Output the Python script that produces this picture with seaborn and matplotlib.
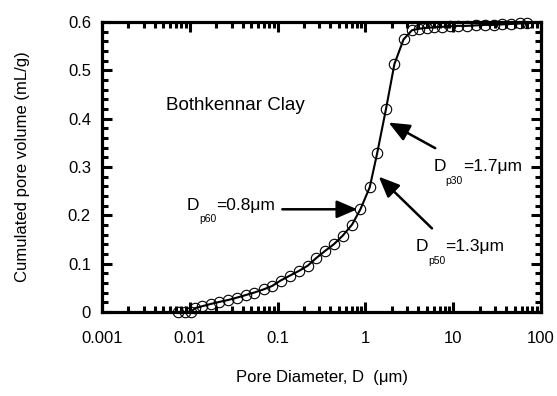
import matplotlib
matplotlib.use("Agg")
import matplotlib.pyplot as plt
import matplotlib.ticker as mticker
import seaborn as sns
import numpy as np

# ---- data ----
diam = [0.0074, 0.0088, 0.0104, 0.0115, 0.0139, 0.0173, 0.0215, 0.0275, 0.0348,
        0.0433, 0.0537, 0.0698, 0.087, 0.108, 0.137, 0.175, 0.221, 0.277, 0.351,
        0.436, 0.552, 0.706, 0.877, 1.12, 1.36, 1.72, 2.14, 2.72, 3.39,
        4.1, 5.0, 6.1, 7.5, 9.3, 11.4, 14.3, 18.0, 23.0, 29.0, 36.0, 46.0, 58.0, 70.0]
vol = [0.000, 0.000, 0.001, 0.008, 0.012, 0.0166, 0.0207, 0.025, 0.030,
       0.035, 0.040, 0.047, 0.054, 0.065, 0.075, 0.085, 0.096, 0.112, 0.127,
       0.140, 0.158, 0.181, 0.2125, 0.258, 0.328, 0.421, 0.513, 0.564, 0.583,
       0.586, 0.588, 0.589, 0.590, 0.591, 0.592, 0.592, 0.593, 0.594, 0.594,
       0.595, 0.596, 0.597, 0.597]

x_ticks = [0.001, 0.01, 0.1, 1, 10, 100]
x_tick_labels = ["0.001", "0.01", "0.1", "1", "10", "100"]
y_ticks = [0, 0.1, 0.2, 0.3, 0.4, 0.5, 0.6]
y_tick_labels = ["0", "0.1", "0.2", "0.3", "0.4", "0.5", "0.6"]

sns.set_style("ticks")
plt.rcParams["font.family"] = ["Liberation Sans", "DejaVu Sans"]
plt.rcParams["text.color"] = "black"
plt.rcParams["axes.labelcolor"] = "black"
plt.rcParams["xtick.color"] = "black"
plt.rcParams["ytick.color"] = "black"

fig = plt.figure(figsize=(5.57, 3.96), dpi=100)
ax = fig.add_axes([102 / 557, (396 - 312) / 396, 439 / 557, 290 / 396])

sns.lineplot(x=diam, y=vol, ax=ax, color="k", lw=1.5, sort=False,
             estimator=None, zorder=3)
ax.plot(diam, vol, ls="none", marker="o", ms=7.5, mfc="none", mec="k",
        mew=0.8, clip_on=False, zorder=4)

ax.set_xscale("log")
ax.set_xlim(0.001, 100)
ax.set_ylim(0, 0.6)
ax.set_xticks(x_ticks)
ax.set_xticklabels(x_tick_labels)
ax.xaxis.set_minor_locator(mticker.LogLocator(base=10, subs=np.arange(2, 10)))
ax.xaxis.set_minor_formatter(mticker.NullFormatter())
ax.set_yticks(y_ticks)
ax.set_yticklabels(y_tick_labels)
ax.yaxis.set_minor_locator(mticker.MultipleLocator(0.02))

for s in ax.spines.values():
    s.set_visible(True)
    s.set_linewidth(2.3)
    s.set_color("k")

ax.tick_params(which="both", direction="in", top=True, right=True,
               color="k", labelcolor="k")
ax.tick_params(which="major", length=7.5, width=2.2, labelsize=12)
ax.tick_params(which="minor", length=4.5, width=2.2)
ax.tick_params(axis="x", which="major", pad=14)
ax.tick_params(axis="y", which="major", pad=8)

ax.set_xlabel("Pore Diameter, D  (\u03bcm)", fontsize=12, color="k")
ax.set_ylabel("Cumulated pore volume (mL/g)", fontsize=12, color="k")
ax.xaxis.set_label_coords(0.5, -0.20)
ax.yaxis.set_label_coords(-0.165, 0.5)

ax.text(0.00534, 0.418, "Bothkennar Clay", fontsize=13.5, ha="left",
        va="baseline", color="k")


def dlabel(x, y, sub, rest):
    t1 = ax.text(x, y, "D", fontsize=12.5, ha="left", va="bottom", color="k")
    t2 = ax.annotate(sub, xy=(1, 0), xycoords=t1, xytext=(0, -1),
                     textcoords="offset points", fontsize=7.5,
                     ha="left", va="top", color="k")
    ax.annotate(rest, xy=(1, 0), xycoords=(t2, t1), fontsize=12.5,
                ha="left", va="bottom", color="k")


aprops = dict(arrowstyle="-|>,head_length=0.7,head_width=0.3", color="k",
              lw=1.8, mutation_scale=18, shrinkA=0, shrinkB=0)

dlabel(0.00925, 0.205, "p60", "=0.8\u03bcm")
ax.annotate("", xy=(0.81, 0.2125), xytext=(0.113, 0.2125), arrowprops=aprops)

dlabel(5.93, 0.285, "p30", "=1.7\u03bcm")
ax.annotate("", xy=(1.84, 0.392), xytext=(6.24, 0.339), arrowprops=aprops)

dlabel(3.70, 0.119, "p50", "=1.3\u03bcm")
ax.annotate("", xy=(1.42, 0.280), xytext=(5.73, 0.173), arrowprops=aprops)

fig.savefig("out.png", dpi=100)
